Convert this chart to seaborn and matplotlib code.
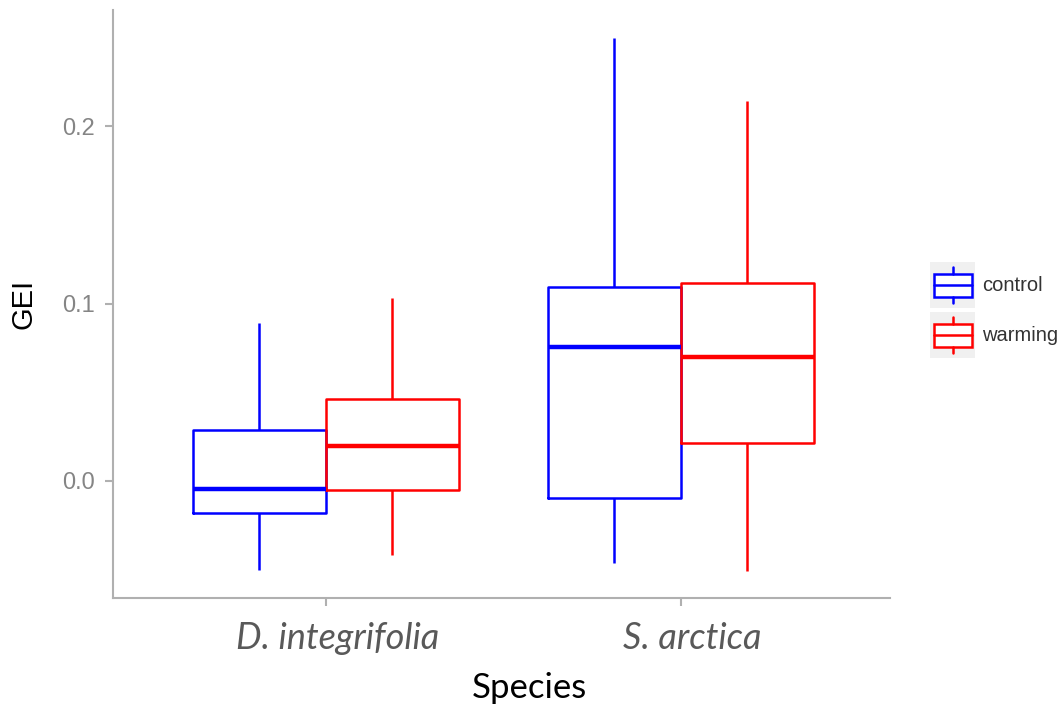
import numpy as np
import pandas as pd
import seaborn as sns
import matplotlib.pyplot as plt
import matplotlib.transforms as mtransforms
from matplotlib.legend_handler import HandlerBase
from matplotlib.patches import Rectangle
from matplotlib.lines import Line2D

species = ["D. integrifolia", "S. arctica"]
treatments = ["control", "warming"]
palette = {"control": "#0000ff", "warming": "#ff0000"}

# five-number summaries per group: lower whisker, Q1, median, Q3, upper whisker
d_control = [-0.050, -0.018, -0.0045, 0.0287, 0.089]
d_warming = [-0.0417, -0.005, 0.0197, 0.046, 0.103]
s_control = [-0.046, -0.0096, 0.0755, 0.1093, 0.2496]
s_warming = [-0.0507, 0.0214, 0.070, 0.1115, 0.214]

groups = {
    ("D. integrifolia", "control"): d_control,
    ("D. integrifolia", "warming"): d_warming,
    ("S. arctica", "control"): s_control,
    ("S. arctica", "warming"): s_warming,
}
rows = [(sp, tr, v) for (sp, tr), vals in groups.items() for v in vals]
df = pd.DataFrame(rows, columns=["Species", "Treatment", "GEI"])

sns.set_theme(style="ticks")
plt.rcParams["font.family"] = ["Liberation Sans", "DejaVu Sans"]

fig = plt.figure(figsize=(10.62, 7.06), dpi=100)
ax = fig.add_axes([113 / 1062, 108 / 706, 777 / 1062, 588 / 706])

# with whis=inf and five values per group, the box edges land on Q1/median/Q3
# and the whiskers on the extremes
sns.boxplot(
    data=df, x="Species", y="GEI", hue="Treatment",
    order=species, hue_order=treatments, palette=palette,
    whis=np.inf, width=0.75, gap=0, fill=False, showcaps=False,
    linewidth=1.8, medianprops=dict(linewidth=3.2), ax=ax,
)
ax.legend_.remove()

ax.set_xlim(-0.6, 1.59)
ax.set_ylim(-0.066, 0.2655)
ax.set_yticks([0.0, 0.1, 0.2])
ax.set_yticklabels(["0.0", "0.1", "0.2"])

grey = "#b0b0b0"
for side in ["top", "right"]:
    ax.spines[side].set_visible(False)
for side in ["left", "bottom"]:
    ax.spines[side].set_color(grey)
    ax.spines[side].set_linewidth(1.5)
ax.tick_params(axis="both", color=grey, width=1.5, length=6)
ax.tick_params(axis="y", labelsize=17, labelcolor="#858585", pad=7)
ax.tick_params(axis="x", labelsize=26, labelcolor="#595959", pad=11)
shift = mtransforms.ScaledTranslation(12 / 100, 0, fig.dpi_scale_trans)
for lab in ax.get_xticklabels():
    lab.set_fontfamily(["Lato", "DejaVu Sans"])
    lab.set_fontstyle("italic")
    lab.set_transform(lab.get_transform() + shift)

ax.set_ylabel("GEI", fontsize=21, color="black", labelpad=18)
ax.set_xlabel("Species", fontsize=25, color="black",
              fontfamily=["Lato", "DejaVu Sans"])
ax.xaxis.set_label_coords(
    529 / 1062, -0.125,
    transform=mtransforms.blended_transform_factory(fig.transFigure, ax.transAxes),
)


class BoxKeyHandler(HandlerBase):
    """Legend key drawn as a small boxplot on a light grey tile."""

    def __init__(self, color):
        super().__init__()
        self.color = color

    def create_artists(self, legend, orig_handle, xdescent, ydescent,
                       width, height, fontsize, trans):
        x0, y0 = -xdescent, -ydescent
        bg = Rectangle((x0, y0), width, height, facecolor="#f0f0f0",
                       edgecolor="none", transform=trans)
        bx0, bx1 = x0 + width * 0.09, x0 + width * 0.93
        by0, by1 = y0 + height * 0.25, y0 + height * 0.75
        box = Rectangle((bx0, by0), bx1 - bx0, by1 - by0, facecolor="white",
                        edgecolor=self.color, linewidth=1.8, transform=trans)
        xm = (bx0 + bx1) / 2
        ym = y0 + height / 2
        med = Line2D([bx0, bx1], [ym, ym], color=self.color, lw=1.8, transform=trans)
        w1 = Line2D([xm, xm], [y0 + height * 0.1, by0], color=self.color, lw=1.8, transform=trans)
        w2 = Line2D([xm, xm], [by1, y0 + height * 0.9], color=self.color, lw=1.8, transform=trans)
        return [bg, box, med, w1, w2]


handles = [Rectangle((0, 0), 1, 1, label=t) for t in treatments]
leg = fig.legend(
    handles, treatments, loc="upper left",
    bbox_to_anchor=(930 / 1062, 1 - 262 / 706),
    frameon=False, fontsize=14.5, handlelength=2.24, handleheight=3.14,
    labelspacing=0.2, handletextpad=0.35, borderaxespad=0, borderpad=0,
    handler_map={h: BoxKeyHandler(palette[t]) for h, t in zip(handles, treatments)},
)
for txt in leg.get_texts():
    txt.set_color("#333333")

fig.savefig("out.png", dpi=100)
